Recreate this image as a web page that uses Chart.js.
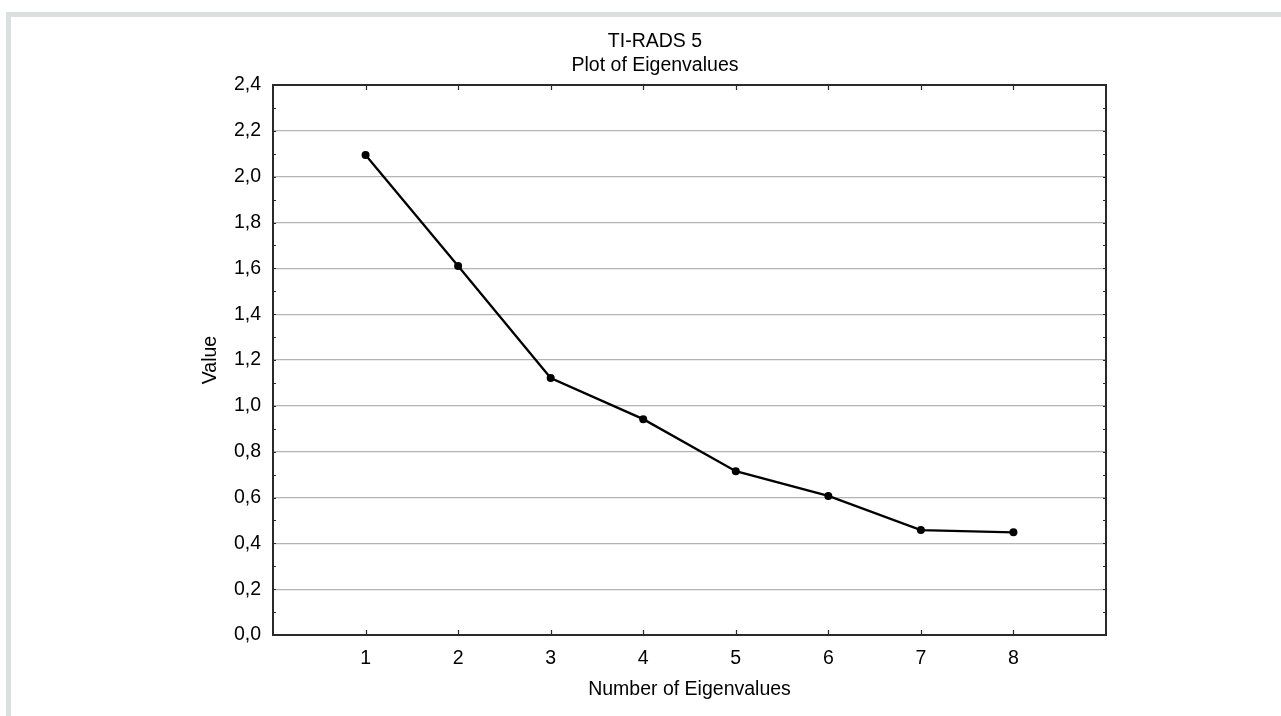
<!DOCTYPE html>
<html>
<head>
<meta charset="utf-8">
<script src="https://cdn.jsdelivr.net/npm/chart.js@4"></script>
<style>
  html, body { margin: 0; padding: 0; background: #fff; }
  body { width: 1281px; height: 716px; position: relative; overflow: hidden; }
  #frame { position: absolute; left: 6px; top: 12px; width: 1400px; height: 800px;
           border-top: 5px solid #dcdfdf; border-left: 5px solid #dcdfdf; }
  #wrap { position: absolute; left: 0; top: 0; width: 1281px; height: 716px; }
</style>
</head>
<body>
<div id="frame"></div>
<div id="wrap"><canvas id="grafico"></canvas></div>
<script>
let numeros = [1, 2, 3, 4, 5, 6, 7, 8];
let valores = [2.095, 1.61, 1.121, 0.942, 0.715, 0.607, 0.458, 0.448];
let titulo = ['TI-RADS 5', 'Plot of Eigenvalues'];
let tituloX = 'Number of Eigenvalues';
let tituloY = 'Value';

let puntos = [];
for (i = 0; i < numeros.length; i++) {
    puntos.push({ x: numeros[i], y: valores[i] });
}

const fuente = 'Liberation Sans, Arial, sans-serif';
const tam = 19.5;

// marco de la grafica con marcas pequeñas hacia adentro
const marco = {
    id: 'marco',
    afterDatasetsDraw(chart) {
        const ctx = chart.ctx;
        const a = chart.chartArea;
        const sx = chart.scales.x;
        const sy = chart.scales.y;
        ctx.save();
        ctx.strokeStyle = '#2a2a2a';
        ctx.lineWidth = 2;
        ctx.strokeRect(a.left, a.top, a.right - a.left, a.bottom - a.top);
        ctx.lineWidth = 1.2;
        ctx.beginPath();
        for (i = 0; i < numeros.length; i++) {
            let px = Math.round(sx.getPixelForValue(numeros[i])) + 0.5;
            ctx.moveTo(px, a.bottom); ctx.lineTo(px, a.bottom - 5);
            ctx.moveTo(px, a.top); ctx.lineTo(px, a.top + 5);
        }
        for (let v = 1; v < 24; v++) {
            let py = Math.round(sy.getPixelForValue(v / 10)) + 0.5;
            ctx.moveTo(a.left, py); ctx.lineTo(a.left + 3, py);
            ctx.moveTo(a.right, py); ctx.lineTo(a.right - 3, py);
        }
        ctx.stroke();
        ctx.restore();
    }
};

var ctxL = document.getElementById('grafico').getContext('2d');
var grafica = new Chart(ctxL, {
    type: 'line',
    data: {
        datasets: [{
            data: puntos,
            borderColor: '#000',
            backgroundColor: '#000',
            borderWidth: 2.3,
            pointRadius: 4,
            pointBackgroundColor: '#000',
            pointBorderWidth: 0,
            tension: 0
        }]
    },
    options: {
        responsive: true,
        maintainAspectRatio: false,
        animation: false,
        layout: { padding: { left: 204, right: 175, top: 0, bottom: 0 } },
        plugins: {
            legend: { display: false },
            tooltip: { enabled: false },
            title: {
                display: true,
                text: titulo,
                color: '#000',
                font: { family: fuente, size: tam, weight: 'normal', lineHeight: '24px' },
                padding: { top: 29.5, bottom: 7.5 }
            }
        },
        scales: {
            x: {
                type: 'linear',
                min: 0,
                max: 9,
                afterBuildTicks: function(scale) {
                    scale.ticks = numeros.map(function(n) { return { value: n }; });
                },
                afterFit: function(scale) { scale.height = 81; },
                grid: { display: false, drawTicks: false },
                border: { display: false },
                ticks: {
                    color: '#000',
                    padding: 12,
                    maxRotation: 0,
                    font: { family: fuente, size: tam }
                },
                title: {
                    display: true,
                    text: tituloX,
                    color: '#000',
                    font: { family: fuente, size: tam },
                    padding: { top: 0, bottom: 15 }
                }
            },
            y: {
                min: 0,
                max: 2.4,
                afterFit: function(scale) { scale.width = 69; },
                grid: {
                    drawTicks: false,
                    color: function(c) {
                        return (c.tick.value <= 0 || c.tick.value >= 2.4) ? 'rgba(0,0,0,0)' : '#b4b4b4';
                    },
                    lineWidth: 1.3
                },
                border: { display: false },
                ticks: {
                    stepSize: 0.2,
                    color: '#000',
                    padding: 12,
                    font: { family: fuente, size: tam },
                    callback: function(v) { return v.toFixed(1).replace('.', ','); }
                },
                title: {
                    display: true,
                    text: tituloY,
                    color: '#000',
                    font: { family: fuente, size: tam, lineHeight: 0.68 },
                    padding: { top: 0, bottom: 0 }
                }
            }
        }
    },
    plugins: [marco]
});
</script>
</body>
</html>
